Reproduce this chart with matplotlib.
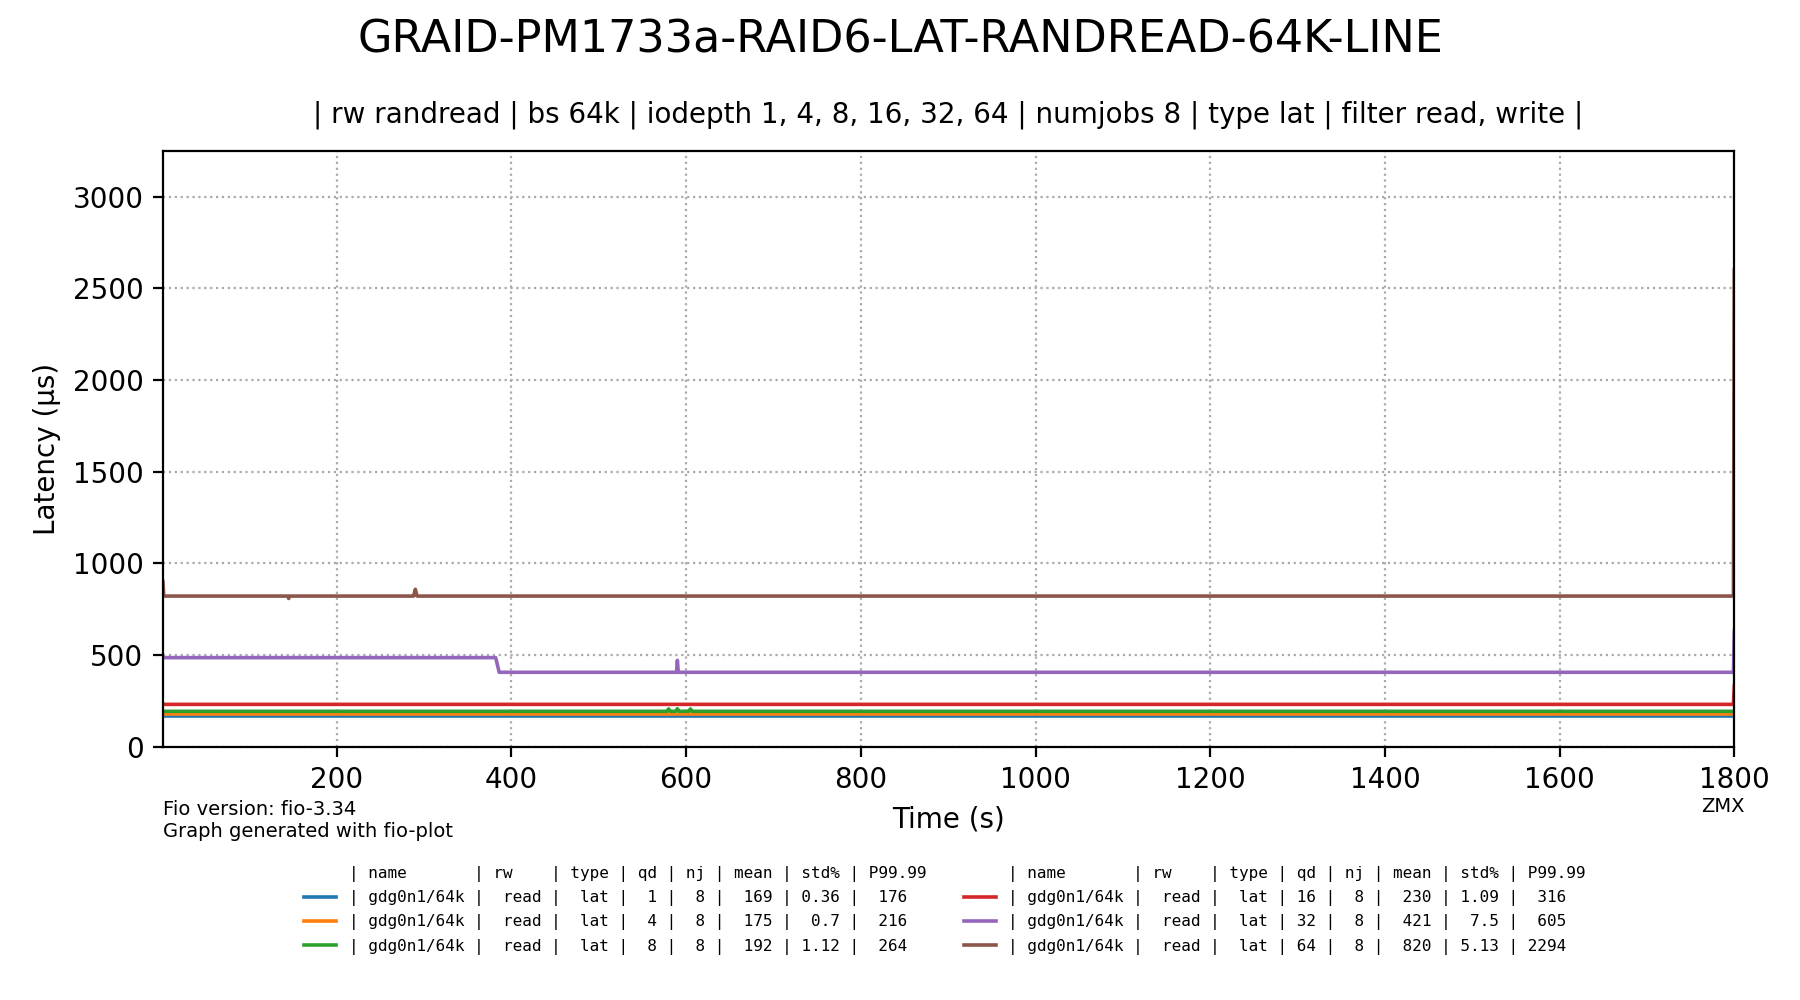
import matplotlib
matplotlib.use("Agg")
import matplotlib.pyplot as plt

# time (s) / latency (us) points, one list pair per queue depth
qd1_t = [1, 1800]
qd1_lat = [169, 169]
qd4_t = [1, 1800]
qd4_lat = [175, 175]
qd8_t = [1, 578, 580, 582, 588, 590, 592, 603, 605, 607, 1800]
qd8_lat = [192, 192, 205, 192, 192, 206, 192, 192, 205, 192, 192]
qd16_t = [1, 1799, 1800]
qd16_lat = [230, 230, 330]
qd32_t = [1, 382, 386, 589, 590, 591, 1799, 1800]
qd32_lat = [485, 485, 405, 405, 470, 405, 405, 630]
qd64_t = [1, 2, 144, 145, 146, 288, 290, 292, 1799, 1800]
qd64_lat = [900, 821, 821, 808, 821, 821, 858, 821, 821, 2600]

series_t = [qd1_t, qd4_t, qd8_t, qd16_t, qd32_t, qd64_t]
series_lat = [qd1_lat, qd4_lat, qd8_lat, qd16_lat, qd32_lat, qd64_lat]
colors = ["tab:blue", "tab:orange", "tab:green", "tab:red", "tab:purple", "tab:brown"]

header = "| name       | rw    | type | qd | nj | mean | std% | P99.99"
rows = [
    "| gdg0n1/64k |  read |  lat |  1 |  8 |  169 | 0.36 |  176",
    "| gdg0n1/64k |  read |  lat |  4 |  8 |  175 |  0.7 |  216",
    "| gdg0n1/64k |  read |  lat |  8 |  8 |  192 | 1.12 |  264",
    "| gdg0n1/64k |  read |  lat | 16 |  8 |  230 | 1.09 |  316",
    "| gdg0n1/64k |  read |  lat | 32 |  8 |  421 |  7.5 |  605",
    "| gdg0n1/64k |  read |  lat | 64 |  8 |  820 | 5.13 | 2294",
]


def main():
    fig = plt.figure(figsize=(9, 5), dpi=200)
    ax = fig.add_axes([0.0905, 0.2535, 0.873, 0.5955])

    lines = []
    for t, lat, c in zip(series_t, series_lat, colors):
        ln, = ax.plot(t, lat, color=c, lw=1.3)
        lines.append(ln)

    ax.set_xlim(1, 1800)
    ax.set_ylim(0, 3250)
    ax.set_xticks(range(200, 1801, 200))
    ax.set_yticks(range(0, 3001, 500))
    ax.grid(True, ls=":", color="#aaaaaa")
    ax.set_xlabel("Time (s)")
    ax.set_ylabel("Latency (\u00b5s)")

    fig.text(0.5, 0.96, "GRAID-PM1733a-RAID6-LAT-RANDREAD-64K-LINE",
             ha="center", va="center", fontsize=16)
    fig.text(0.527, 0.885,
             "| rw randread | bs 64k | iodepth 1, 4, 8, 16, 32, 64 | numjobs 8 | type lat | filter read, write |",
             ha="center", va="center", fontsize=10)

    fig.text(0.0905, 0.2, "Fio version: fio-3.34\nGraph generated with fio-plot",
             ha="left", va="top", fontsize=7)
    fig.text(0.957, 0.1935, "ZMX", ha="center", va="center", fontsize=7)

    # legend as a table: header entries get an invisible handle
    blank, = ax.plot([], [], color="none")
    handles = [blank] + lines[:3] + [blank] + lines[3:]
    labels = [header] + rows[:3] + [header] + rows[3:]
    fig.legend(handles, labels, loc="upper center", bbox_to_anchor=(0.525, 0.1485),
               ncol=2, frameon=False, prop={"family": "DejaVu Sans Mono", "size": 5.75},
               labelspacing=0.52, columnspacing=2.35, handlelength=2.0)

    fig.savefig("out.png", dpi=200)


if __name__ == '__main__':
    main()
